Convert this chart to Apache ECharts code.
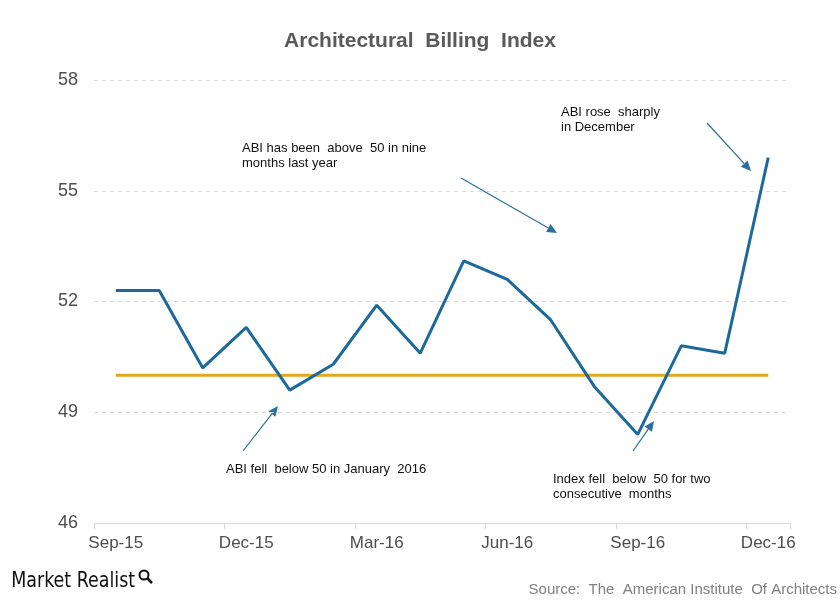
<!DOCTYPE html>
<html>
<head>
<meta charset="utf-8">
<script src="https://cdn.jsdelivr.net/npm/echarts@6/dist/echarts.min.js"></script>
<style>
html,body{margin:0;padding:0;background:#fff;}
#chart{width:840px;height:601px;}
</style>
</head>
<body>
<div id="chart"></div>
<script>
var categories = ['Sep-15','Oct-15','Nov-15','Dec-15','Jan-16','Feb-16','Mar-16','Apr-16','May-16','Jun-16','Jul-16','Aug-16','Sep-16','Oct-16','Nov-16','Dec-16'];
var abiValues = [52.3, 52.3, 50.2, 51.3, 49.6, 50.3, 51.9, 50.6, 53.1, 52.6, 51.5, 49.7, 48.4, 50.8, 50.6, 55.9];
var thresholdValues = [50, 50, 50, 50, 50, 50, 50, 50, 50, 50, 50, 50, 50, 50, 50, 50];
var yTicks = [46, 49, 52, 55, 58];

var FONT = '"Liberation Sans", Arial, sans-serif';
var arrowColor = '#2a6f9e';

function arrow(x1, y1, x2, y2) {
  var dx = x2 - x1, dy = y2 - y1;
  var len = Math.sqrt(dx*dx + dy*dy);
  var ux = dx/len, uy = dy/len;
  var hl = 10, hw = 4.5;
  var bx = x2 - ux*hl, by = y2 - uy*hl;
  return [
    {type:'line', shape:{x1:x1,y1:y1,x2:bx,y2:by}, style:{stroke:arrowColor, lineWidth:1.2}, silent:true},
    {type:'polygon', shape:{points:[[x2,y2],[bx - uy*hw, by + ux*hw],[bx + uy*hw, by - ux*hw]]}, style:{fill:arrowColor}, silent:true}
  ];
}

function note(x, y, text) {
  return {type:'text', left:x, top:y, style:{text:text, font:'13px ' + FONT, fill:'#111', lineHeight:15}, silent:true};
}

// fit logo text width
var logoFont = 'bold 0px sans-serif';
var logoText = 'Market Realist';
var cv = document.createElement('canvas').getContext('2d');
cv.font = '22px "Liberation Sans Narrow", "DejaVu Sans Condensed", sans-serif';
var logoW = cv.measureText(logoText).width;
var logoScale = 124 / logoW;

var graphics = [];
graphics = graphics.concat(arrow(461, 178, 557, 233));
graphics = graphics.concat(arrow(707, 123, 751, 171));
graphics = graphics.concat(arrow(243, 451, 278, 406));
graphics = graphics.concat(arrow(633, 451, 654, 421));
graphics.push(note(242, 141, 'ABI has been  above  50 in nine\nmonths last year'));
graphics.push(note(561, 105, 'ABI rose  sharply\nin December'));
graphics.push(note(226, 462, 'ABI fell  below 50 in January  2016'));
graphics.push(note(553, 472, 'Index fell  below  50 for two\nconsecutive  months'));
graphics.push({type:'text', x:10, y:570, scaleX:logoScale, originX:10, originY:570, style:{text:logoText, font:'22px "Liberation Sans Narrow", "DejaVu Sans Condensed", sans-serif', fill:'#111'}, silent:true});
graphics.push({type:'circle', shape:{cx:144, cy:575, r:4.5}, style:{stroke:'#111', fill:'none', lineWidth:2}, silent:true});
graphics.push({type:'line', shape:{x1:147.5, y1:578.5, x2:152, y2:583}, style:{stroke:'#111', lineWidth:2.5}, silent:true});
graphics.push({type:'text', right:3, top:582, style:{text:'Source:  The  American Institute  Of Architects', font:'15px ' + FONT, fill:'#7f7f7f'}, silent:true});

var chart = echarts.init(document.getElementById('chart'));
chart.setOption({
  animation:false,
  backgroundColor:'#fff',
  title:{
    text:'Architectural  Billing  Index',
    left:'center', top:26,
    textStyle:{fontFamily:FONT, fontSize:21, fontWeight:'bold', color:'#595959'}
  },
  grid:{left:94, right:50, top:80, bottom:78, containLabel:false},
  xAxis:{
    type:'category',
    data:categories,
    boundaryGap:true,
    axisLine:{lineStyle:{color:'#d9d9d9', width:1}},
    axisTick:{show:true, interval:2, length:6, lineStyle:{color:'#d9d9d9'}},
    axisLabel:{interval:2, color:'#4d4d4d', fontSize:17, fontFamily:FONT, margin:12},
    splitLine:{show:false}
  },
  yAxis:{
    type:'value',
    min:yTicks[0], max:yTicks[yTicks.length-1], interval:3,
    axisLine:{show:false},
    axisTick:{show:false},
    axisLabel:{color:'#4d4d4d', fontSize:18, fontFamily:FONT, margin:16},
    splitLine:{lineStyle:{color:'#d9d9d9', type:[4,4], width:1}}
  },
  series:[
    {name:'Threshold', type:'line', data:thresholdValues, symbol:'none', lineStyle:{color:'#e3a81c', width:3}, z:2},
    {name:'ABI', type:'line', data:abiValues, symbol:'none', lineStyle:{color:'#1c6a9c', width:3}, z:3}
  ],
  graphic:graphics
});
</script>
</body>
</html>
